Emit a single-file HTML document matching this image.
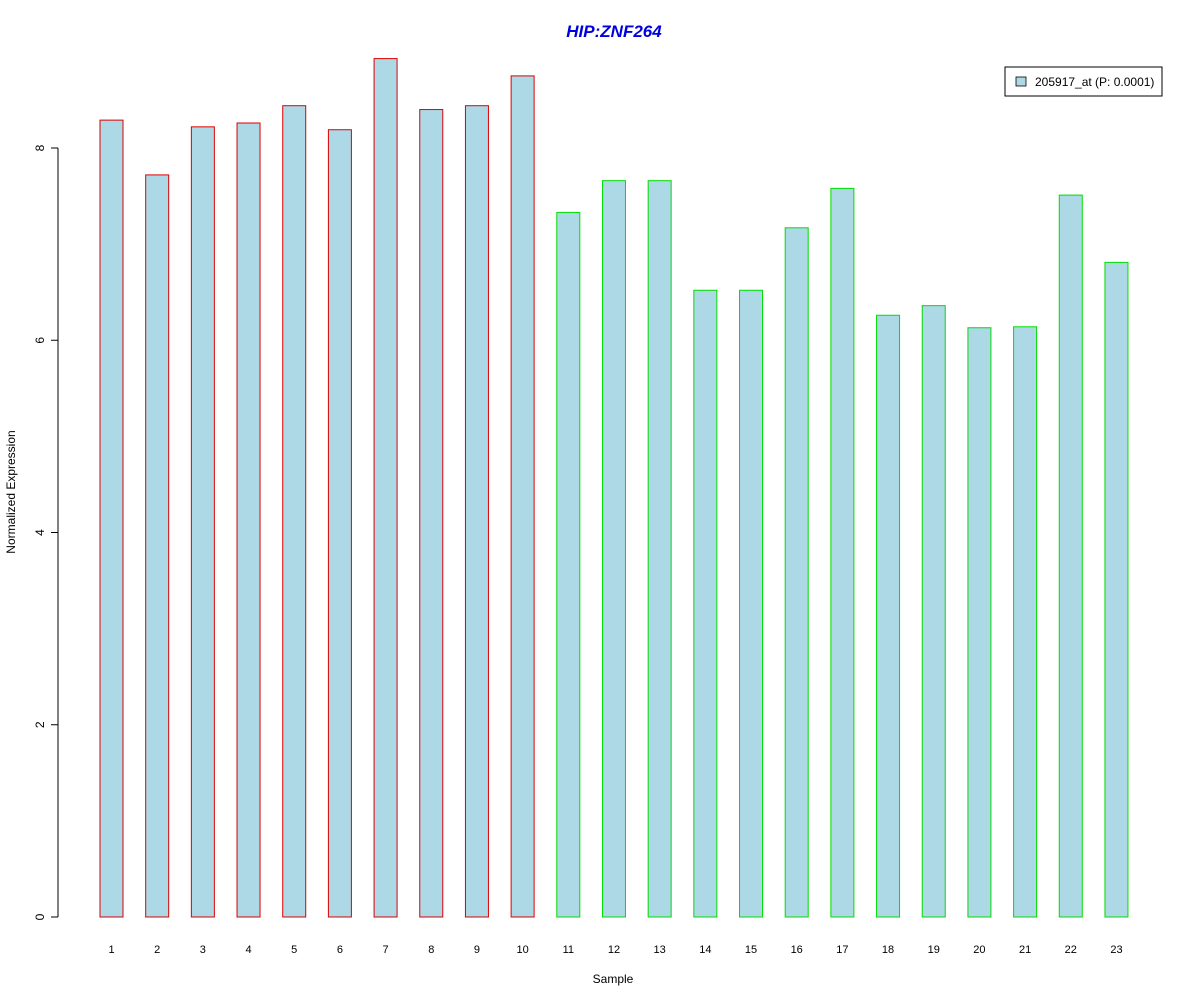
<!DOCTYPE html>
<html><head><meta charset="utf-8"><style>body{margin:0;background:#fff}svg{display:block;font-family:"Liberation Sans",Arial,sans-serif}</style></head>
<body>
<svg id="chart" width="1200" height="1000" xmlns="http://www.w3.org/2000/svg">
<rect width="1200" height="1000" fill="#fff"/>
<text x="614" y="37" text-anchor="middle" font-size="17" font-weight="bold" font-style="italic" fill="#0000dd">HIP:ZNF264</text>
<text transform="translate(15,492) rotate(-90)" text-anchor="middle" font-size="12">Normalized Expression</text>
<text x="613" y="983" text-anchor="middle" font-size="12">Sample</text>
<g id="yaxis"></g>
<g id="bars"></g>
<g id="xlabels"></g>
<g>
<rect x="1005" y="67" width="157" height="29" fill="#fff" stroke="#000"/>
<rect x="1016" y="77" width="10" height="9" fill="#add8e6" stroke="#000" stroke-width="0.8"/>
<text x="1035" y="86" font-size="12">205917_at (P: 0.0001)</text>
</g>
</svg>
<script>
const categories=["1","2","3","4","5","6","7","8","9","10","11","12","13","14","15","16","17","18","19","20","21","22","23"];
const values=[8.29,7.72,8.22,8.26,8.44,8.19,8.93,8.40,8.44,8.75,7.33,7.66,7.66,6.52,6.52,7.17,7.58,6.26,6.36,6.13,6.14,7.51,6.81];
const groups=["a","a","a","a","a","a","a","a","a","a","b","b","b","b","b","b","b","b","b","b","b","b","b"];
const yTicks=[0,2,4,6,8];
const NS="http://www.w3.org/2000/svg";
const y0=917,pxPer=96.125;
function yScale(v){return y0-v*pxPer;}
function xScale(i){return 111.5+i*45.68;}
function mk(tag,attrs,parent){const e=document.createElementNS(NS,tag);for(const k in attrs)e.setAttribute(k,attrs[k]);parent.appendChild(e);return e;}
const ya=document.getElementById('yaxis');
const ax=mk('line',{x1:58,x2:58,y1:yScale(0),y2:yScale(8),stroke:'#000'},ya);


yTicks.forEach(t=>{
 const l=mk('line',{x1:51,x2:58,y1:yScale(t),y2:yScale(t),stroke:'#000'},ya);
 
 
 const tx=mk('text',{transform:`translate(44,${yScale(t)}) rotate(-90)`,'text-anchor':'middle','font-size':'12'},ya);
 tx.textContent=t;
 
 
});
const bg=document.getElementById('bars'),xl=document.getElementById('xlabels');
values.forEach((v,i)=>{
 const cx=xScale(i);
 const r=mk('rect',{x:cx-11.5,y:yScale(v),width:23,height:yScale(0)-yScale(v),fill:'#add8e6',stroke:groups[i]==='a'?'#dd0000':'#00dd00'},bg);
 
 
 const t=mk('text',{x:cx,y:953,'text-anchor':'middle','font-size':'11'},xl);
 t.textContent=categories[i];
 
 
});
</script>
</body></html>
